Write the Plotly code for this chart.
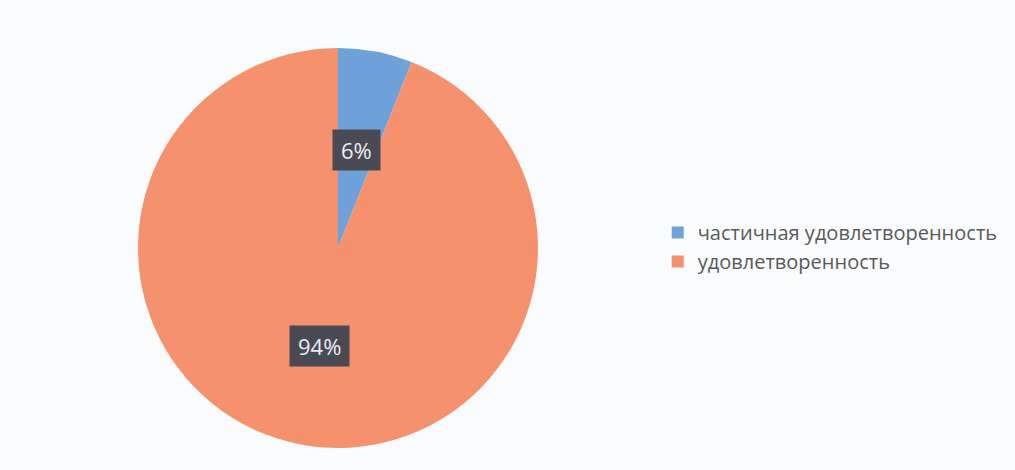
import math
import plotly.graph_objects as go

categories = ["частичная удовлетворенность", "удовлетворенность"]
values = [6, 94]
colors = ["#6EA2D8", "#F5916D"]

W, H = 1015, 470
BG = "#F9FBFC"
# pie placement (pixels)
pie_cx, pie_cy, pie_r = 338, 248, 200
dom_x = [(pie_cx - pie_r) / W, (pie_cx + pie_r) / W]
dom_y = [1 - (pie_cy + pie_r) / H, 1 - (pie_cy - pie_r) / H]

fig = go.Figure(go.Pie(
    labels=categories,
    values=values,
    marker=dict(colors=colors, line=dict(width=0)),
    sort=False,
    direction="clockwise",
    rotation=0,
    textinfo="none",
    domain=dict(x=dom_x, y=dom_y),
    hoverinfo="label+percent",
))

# data labels at mid-angle of each slice
total = sum(values)
cum = 0
annotations = []
for v in values:
    mid = (cum + v / 2) / total * 2 * math.pi
    cum += v
    rr = 0.5 * pie_r
    px = pie_cx + rr * math.sin(mid)
    py = pie_cy - rr * math.cos(mid)
    annotations.append(dict(
        x=px / W, y=1 - py / H, xref="paper", yref="paper",
        xanchor="center", yanchor="middle",
        text=f"{round(v / total * 100)}%", showarrow=False,
        font=dict(family="Open Sans", size=22, color="#ECECF2"),
        bgcolor="#4A4A55", borderpad=8, height=24,
    ))

fig.update_layout(
    width=W, height=H,
    margin=dict(l=0, r=0, t=0, b=0),
    paper_bgcolor=BG,
    plot_bgcolor=BG,
    showlegend=True,
    legend=dict(
        x=0.648, y=1 - 247 / H, xanchor="left", yanchor="middle",
        font=dict(family="Open Sans", size=20, color="#595959"),
        bgcolor="rgba(0,0,0,0)",
        tracegroupgap=0,
    ),
    annotations=annotations,
)

fig.write_html(
    "out.html",
    config={"displayModeBar": False},
    post_script=f"document.body.style.margin='0';document.body.style.background='{BG}';"
                "document.documentElement.style.overflow='hidden';",
)
